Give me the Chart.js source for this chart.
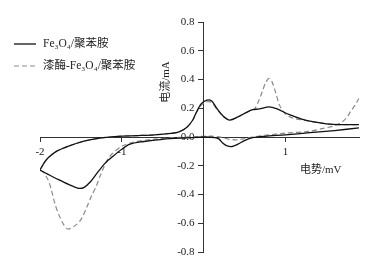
<!DOCTYPE html>
<html>
<head>
<meta charset="utf-8">
<script src="https://cdn.jsdelivr.net/npm/chart.js@4/dist/chart.umd.min.js"></script>
<style>
  html, body { margin: 0; padding: 0; background: #fff; }
  #wrap { width: 373px; height: 267px; }
</style>
</head>
<body>
<div id="wrap"><canvas id="cv"></canvas></div>
<script>
// Fe3O4/聚苯胺 : forward scan (-2 -> 1.9) and reverse scan (1.9 -> -2)
var paniFwdV  = [-2.0,-1.95,-1.9,-1.8,-1.65,-1.45,-1.25,-1.05,-0.8,-0.6,-0.4,-0.3,-0.2,-0.13,-0.09,-0.03,0.04,0.1,0.16,0.24,0.32,0.42,0.52,0.6,0.68,0.8,0.9,1.05,1.2,1.35,1.5,1.65,1.9];
var paniFwdMA = [-0.23,-0.18,-0.145,-0.1,-0.063,-0.027,-0.006,0.005,0.01,0.015,0.025,0.035,0.07,0.12,0.17,0.23,0.257,0.25,0.2,0.145,0.118,0.14,0.17,0.19,0.195,0.21,0.195,0.155,0.125,0.105,0.092,0.086,0.086];
var paniRevV  = [1.9,1.6,1.3,1.0,0.75,0.6,0.5,0.42,0.35,0.28,0.23,0.19,0.14,0.0,-0.2,-0.5,-0.75,-0.9,-1.0,-1.1,-1.2,-1.3,-1.38,-1.46,-1.53,-1.65,-1.78,-1.9,-2.0];
var paniRevMA = [0.063,0.045,0.03,0.015,0.005,-0.005,-0.025,-0.05,-0.066,-0.06,-0.04,-0.015,-0.004,0.0,-0.006,-0.016,-0.033,-0.05,-0.085,-0.13,-0.18,-0.25,-0.31,-0.35,-0.357,-0.33,-0.295,-0.26,-0.23];

// 漆酶-Fe3O4/聚苯胺
var laccFwdV  = [-2.0,-1.95,-1.9,-1.8,-1.65,-1.45,-1.25,-1.05,-0.8,-0.6,-0.4,-0.3,-0.2,-0.13,-0.09,-0.03,0.04,0.1,0.16,0.24,0.32,0.42,0.5,0.58,0.63,0.68,0.72,0.76,0.8,0.84,0.88,0.93,1.0,1.1,1.25,1.4,1.55,1.7,1.9];
var laccFwdMA = [-0.23,-0.18,-0.145,-0.1,-0.063,-0.027,-0.006,0.005,0.01,0.015,0.025,0.035,0.07,0.12,0.165,0.22,0.245,0.24,0.195,0.145,0.12,0.14,0.165,0.185,0.2,0.26,0.32,0.38,0.408,0.38,0.31,0.22,0.16,0.13,0.115,0.1,0.09,0.086,0.086];
var laccRevV  = [1.9,1.85,1.8,1.75,1.68,1.6,1.45,1.3,1.0,0.8,0.6,0.5,0.4,0.3,0.22,0.1,0.0,-0.3,-0.6,-0.85,-1.0,-1.15,-1.25,-1.31,-1.37,-1.43,-1.5,-1.58,-1.66,-1.72,-1.77,-1.82,-1.86,-1.9,-1.96,-2.0];
var laccRevMA = [0.27,0.22,0.18,0.135,0.1,0.078,0.058,0.04,0.027,0.015,0.0,-0.012,-0.02,-0.015,-0.003,0.006,0.005,-0.003,-0.015,-0.035,-0.065,-0.137,-0.25,-0.34,-0.41,-0.49,-0.575,-0.62,-0.64,-0.6,-0.54,-0.46,-0.37,-0.3,-0.245,-0.23];

var seriesNames = ['Fe\u2083O\u2084/聚苯胺', '漆酶-Fe\u2083O\u2084/聚苯胺'];
var xTicks = [-2, -1, 1];
var yTicks = [-0.8, -0.6, -0.4, -0.2, 0.0, 0.2, 0.4, 0.6, 0.8];
var xTitle = '电势/mV';
var yTitle = '电流/mA';

function pts(xs, ys) {
  return xs.map(function (v, i) { return { x: v, y: ys[i] }; });
}
// the two sweeps of one loop, with a break between them
function loop(fv, fm, rv, rm) {
  return pts(fv, fm).concat([{ x: fv[fv.length - 1], y: null }], pts(rv, rm));
}

var serif = '"Liberation Serif", "Noto Sans CJK SC", serif';

// titles and legend drawn where the original puts them
var extras = {
  id: 'extras',
  afterDraw: function (chart) {
    var c = chart.ctx;
    c.save();
    c.fillStyle = '#222';
    c.textBaseline = 'middle';
    c.textAlign = 'left';
    c.font = '11px ' + serif;
    c.fillText(xTitle, 300, 170);

    c.font = '11.5px ' + serif;
    chart.data.datasets.forEach(function (ds, i) {
      var y = 44 + i * 22;
      c.beginPath();
      c.strokeStyle = ds.borderColor;
      c.lineWidth = ds.borderWidth;
      c.setLineDash(ds.borderDash || []);
      c.moveTo(14, y);
      c.lineTo(36, y);
      c.stroke();
      c.setLineDash([]);
      c.fillText(ds.label, 43, y);
    });

    c.font = '11px ' + serif;
    c.translate(166, 82);
    c.rotate(-Math.PI / 2);
    c.textAlign = 'center';
    c.fillText(yTitle, 0, 0);
    c.restore();
  }
};

new Chart(document.getElementById('cv'), {
  type: 'scatter',
  data: {
    datasets: [{
      label: seriesNames[0],
      data: loop(paniFwdV, paniFwdMA, paniRevV, paniRevMA),
      showLine: true,
      borderColor: '#111',
      borderWidth: 1.3,
      pointRadius: 0,
      tension: 0.3
    }, {
      label: seriesNames[1],
      data: loop(laccFwdV, laccFwdMA, laccRevV, laccRevMA),
      showLine: true,
      borderColor: '#8a8a8a',
      borderWidth: 1.2,
      borderDash: [5, 3],
      pointRadius: 0,
      tension: 0.3
    }]
  },
  options: {
    responsive: true,
    maintainAspectRatio: false,
    animation: false,
    layout: { padding: { left: 40, right: 14, top: 22, bottom: 15 } },
    plugins: { legend: { display: false }, tooltip: { enabled: false } },
    scales: {
      x: {
        type: 'linear',
        position: { y: 0 },
        min: -2, max: 1.9,
        afterBuildTicks: function (s) { s.ticks = xTicks.map(function (v) { return { value: v }; }); },
        grid: { drawOnChartArea: false, drawTicks: true, tickLength: 4, color: '#333' },
        border: { color: '#333', width: 1 },
        ticks: { color: '#222', font: { family: serif, size: 11 }, padding: 5, maxRotation: 0 }
      },
      y: {
        type: 'linear',
        position: { x: 0 },
        min: -0.8, max: 0.8,
        afterBuildTicks: function (s) { s.ticks = yTicks.map(function (v) { return { value: v }; }); },
        // labels of a centred axis sit on the line; push them left of the tick marks
        afterUpdate: function (s) {
          var base = Object.getPrototypeOf(s)._computeLabelItems;
          s._computeLabelItems = function (area) {
            var items = base.call(this, area);
            items.forEach(function (it) { it.options.translation[0] -= 9; });
            return items;
          };
        },
        grid: { drawOnChartArea: false, drawTicks: true, tickLength: 5, color: '#333' },
        border: { color: '#333', width: 1 },
        ticks: {
          color: '#222', font: { family: serif, size: 11 }, padding: 2,
          callback: function (v) { return Number(v).toFixed(1); }
        }
      }
    }
  },
  plugins: [extras]
});
</script>
</body>
</html>
